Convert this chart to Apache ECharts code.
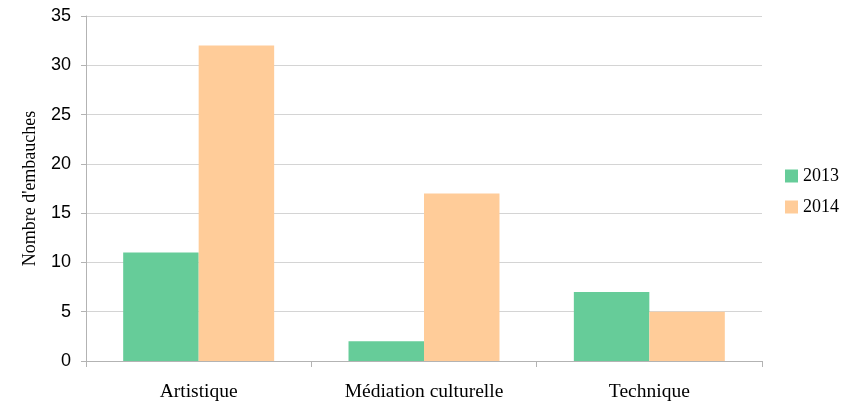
<!DOCTYPE html>
<html><head><meta charset="utf-8">
<script src="https://cdn.jsdelivr.net/npm/echarts@6/dist/echarts.min.js"></script>
<style>html,body{margin:0;padding:0;background:#fff}#c{width:854px;height:402px}</style>
</head><body><div id="c"></div>
<script>
const categories = ['Artistique', 'Médiation culturelle', 'Technique'];
const values2013 = [11, 2, 7];
const values2014 = [32, 17, 5];
const yTicks = { min: 0, max: 35, interval: 5 };

const chart = echarts.init(document.getElementById('c'));
chart.setOption({
  animation: false,
  grid: { left: 86, right: 92, top: 16, bottom: 40 },
  legend: {
    orient: 'vertical', left: 780, top: 162, itemWidth: 13, itemHeight: 13, itemGap: 13,
    icon: 'rect',
    textStyle: { fontFamily: 'Liberation Serif', fontSize: 18, color: '#000' },
    data: ['2013', '2014']
  },
  xAxis: {
    type: 'category', data: categories,
    axisLine: { lineStyle: { color: '#b3b3b3', width: 1 } },
    axisTick: { show: true, length: 6, lineStyle: { color: '#b3b3b3' } },
    axisLabel: { fontFamily: 'Liberation Serif', fontSize: 19.5, color: '#000', margin: 21 }
  },
  yAxis: {
    type: 'value', min: yTicks.min, max: yTicks.max, interval: yTicks.interval,
    name: "Nombre d'embauches", nameLocation: 'middle', nameGap: 47, nameRotate: 90,
    nameTextStyle: { fontFamily: 'Liberation Serif', fontSize: 18, color: '#000' },
    axisLine: { show: true, lineStyle: { color: '#b3b3b3' } },
    axisTick: { show: true, length: 5, lineStyle: { color: '#b3b3b3' } },
    axisLabel: { fontFamily: 'Liberation Sans', fontSize: 18, color: '#000', margin: 15 },
    splitLine: { lineStyle: { color: '#d4d4d4', width: 1 } }
  },
  series: [
    { name: '2013', type: 'bar', data: values2013, barGap: '0%', barCategoryGap: '33%',
      itemStyle: { color: '#66cc99' } },
    { name: '2014', type: 'bar', data: values2014, barGap: '0%', barCategoryGap: '33%',
      itemStyle: { color: '#ffcc99' } }
  ]
});
</script></body></html>
